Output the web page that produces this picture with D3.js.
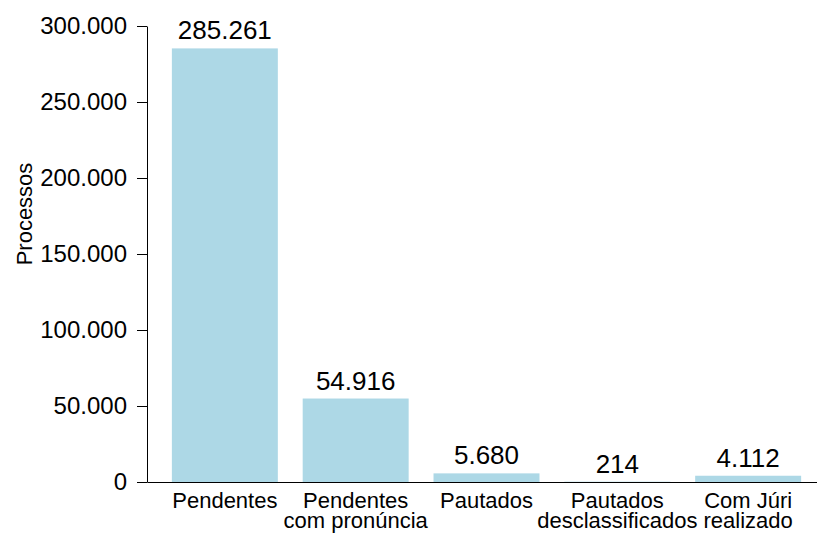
<!DOCTYPE html>
<html>
<head>
<meta charset="utf-8">
<script src="https://cdn.jsdelivr.net/npm/d3@7"></script>
<style>
  body { margin: 0; background: #fff; }
  svg { display: block; font-family: "Liberation Sans", Arial, sans-serif; }
</style>
</head>
<body>
<svg id="chart"></svg>
<script>
// data
var categories = ["Pendentes", "Pendentes\ncom pronúncia", "Pautados", "Pautados\ndesclassificados", "Com Júri\nrealizado"];
var values = [285261, 54916, 5680, 214, 4112];
var yTicks = [0, 50000, 100000, 150000, 200000, 250000, 300000];

var w = 817;
var h = 536;

var svg = d3.select("#chart")
  .attr("width", w)
  .attr("height", h);

var ptBR = d3.formatLocale({ decimal: ",", thousands: ".", grouping: [3], currency: ["R$", ""] });
var fmt = ptBR.format(",d");

var x = d3.scaleBand()
  .domain(categories)
  .range([147, 826])
  .paddingInner(0.19)
  .paddingOuter(0.19);

var y = d3.scaleLinear()
  .domain([0, 300000])
  .range([482, 26]);

// bars
svg.append("g")
  .selectAll("rect")
  .data(values)
  .join("rect")
  .attr("x", (d, i) => x(categories[i]))
  .attr("y", d => y(d))
  .attr("width", x.bandwidth())
  .attr("height", d => y(0) - y(d))
  .attr("fill", "lightblue");

// value labels
svg.append("g")
  .selectAll("text")
  .data(values)
  .join("text")
  .attr("x", (d, i) => x(categories[i]) + x.bandwidth() / 2)
  .attr("y", d => y(d) - 9)
  .attr("text-anchor", "middle")
  .style("font-size", "26px")
  .attr("fill", "#000")
  .text(d => fmt(d));

// y axis
var yAxis = svg.append("g")
  .attr("transform", "translate(147,0)")
  .call(d3.axisLeft(y)
    .tickValues(yTicks)
    .tickSize(10)
    .tickSizeOuter(0)
    .tickPadding(10)
    .tickFormat(fmt));
yAxis.selectAll("text")
  .style("font-size", "24px")
  .attr("fill", "#000");
yAxis.selectAll("line, path").attr("stroke", "#000");

// x axis
var xAxis = svg.append("g")
  .attr("transform", "translate(0,482)")
  .call(d3.axisBottom(x).tickSize(0).tickSizeOuter(0).tickFormat(""));
xAxis.select(".domain").attr("stroke", "#000");

xAxis.selectAll(".tick text").remove();
xAxis.selectAll(".tick")
  .append("text")
  .attr("fill", "#000")
  .attr("text-anchor", "middle")
  .style("font-size", "22px")
  .each(function (d) {
    var lines = d.split("\n");
    var t = d3.select(this);
    lines.forEach(function (line, k) {
      t.append("tspan")
        .attr("x", 0)
        .attr("y", 26 + k * 20)
        .text(line);
    });
  });

// y title
svg.append("text")
  .attr("transform", "translate(32,214) rotate(-90)")
  .attr("text-anchor", "middle")
  .style("font-size", "22px")
  .attr("fill", "#000")
  .text("Processos");
</script>
</body>
</html>
